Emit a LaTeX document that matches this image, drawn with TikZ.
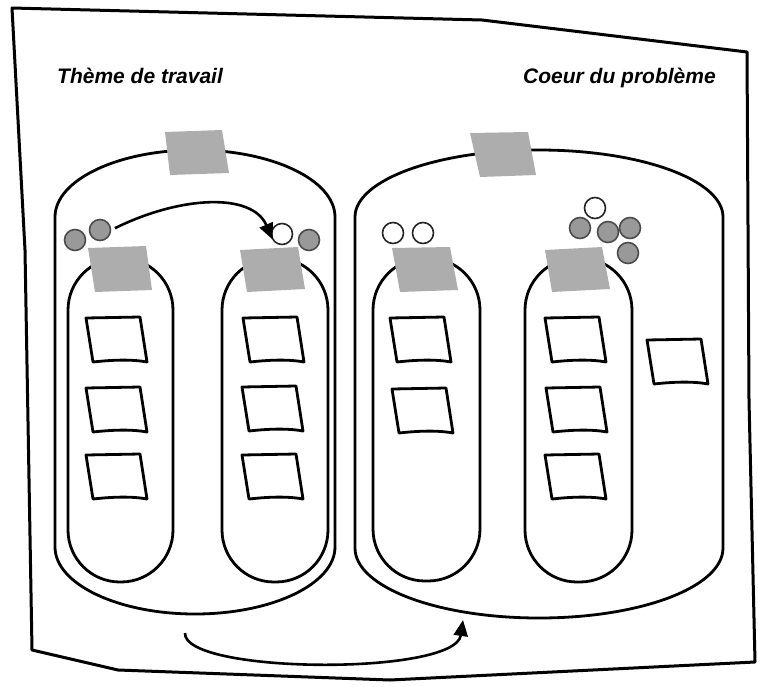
\documentclass[tikz,border=0pt]{standalone}
\usepackage{fontspec}
\setmainfont{Liberation Sans}
\usetikzlibrary{arrows.meta}
\definecolor{tapegray}{gray}{0.68}
\definecolor{dotgray}{gray}{0.6}
\definecolor{dotline}{gray}{0.3}
\tikzset{
  frameline/.style={line width=3pt, line join=round},
  boxline/.style={line width=2.8pt},
  cardline/.style={line width=2.8pt, line join=round},
  tape/.style={fill=tapegray, draw=none},
  gdot/.style={circle, minimum size=21pt, inner sep=0pt, fill=dotgray, draw=dotline, line width=1.6pt},
  wdot/.style={circle, minimum size=21pt, inner sep=0pt, fill=white, draw=black!85, line width=1.6pt},
  flow/.style={line width=2.6pt, -{Triangle[length=16pt,width=14pt]}},
  title/.style={font=\fontsize{21}{25}\selectfont\bfseries\itshape, inner sep=0pt},
  card/.pic={\draw[cardline] (0,0) -- (54,-1) -- (61,44) .. controls (45,41) and (25,42) .. (7,44) -- cycle;}
}
\begin{document}
\begin{tikzpicture}[x=1pt, y=-1pt]
\useasboundingbox (0,0) rectangle (758,686);
% outer sheet
\draw[frameline] (12,8) -- (482,20) -- (747,52) -- (749,400) -- (755,662) -- (390,680) -- (118,670) -- (32,650) -- (25,250) -- cycle;
% titles
\node[title, anchor=base west] (t1) at (57,83) {Thème de travail};
\node[title, anchor=base west] (t2) at (523,83) {Coeur du problème};
% big containers
\draw[boxline] (55,217) -- (55,547) .. controls (55,584) and (118,614) .. (195,614) .. controls (272,614) and (335,584) .. (335,547) -- (335,217) .. controls (335,180) and (272,150) .. (195,150) .. controls (118,150) and (55,180) .. (55,217) -- cycle;
\draw[boxline] (355,217) -- (355,548) .. controls (355,587) and (437,618) .. (539,618) .. controls (641,618) and (723,587) .. (723,548) -- (723,217) .. controls (723,180) and (641,150) .. (539,150) .. controls (437,150) and (355,180) .. (355,217) -- cycle;
% inner capsules
\draw[boxline, rounded corners=52pt] (68,258) rectangle (173,582);
\draw[boxline, rounded corners=52pt] (222,258) rectangle (328,582);
\draw[boxline, rounded corners=52pt] (373,258) rectangle (480,581);
\draw[boxline, rounded corners=52pt] (525,258) rectangle (632,582);
% tapes
\fill[tape] (165,132) -- (222,130) -- (229,173) -- (170,175) -- cycle;
\fill[tape] (470,133) -- (528,132) -- (536,175) -- (480,177) -- cycle;
\fill[tape] (88,248) -- (146,246) -- (152,290) -- (95,292) -- cycle;
\fill[tape] (240,250) -- (298,247) -- (305,289) -- (247,292) -- cycle;
\fill[tape] (392,248) -- (450,247) -- (458,290) -- (400,292) -- cycle;
\fill[tape] (545,250) -- (602,247) -- (610,289) -- (552,292) -- cycle;
% dots
\node[gdot] (g1) at (75,240) {};
\node[gdot] (g2) at (100,230) {};
\node[wdot] (w1) at (282,234) {};
\node[gdot] (g3) at (309,240) {};
\node[wdot] (w2) at (393,233) {};
\node[wdot] (w3) at (423,233) {};
\node[wdot] (w4) at (595,208) {};
\node[gdot] (g4) at (580,228) {};
\node[gdot] (g5) at (608,232) {};
\node[gdot] (g6) at (630,228) {};
\node[gdot] (g7) at (628,253) {};
% cards
\pic at (86,318) {card};
\pic at (86,388) {card};
\pic at (86,455) {card};
\pic at (243,318) {card};
\pic at (242,387) {card};
\pic at (242,455) {card};
\pic at (390,318) {card};
\pic at (392,389) {card};
\pic at (545,318) {card};
\pic at (546,388) {card};
\pic at (545,455) {card};
\pic at (647,340) {card};
% arrows
\draw[flow, shorten <=4pt, shorten >=2pt] (g2.east) .. controls (180,196) and (252,192) .. (w1.220);
\coordinate (bs) at (185,633);
\coordinate (be) at (463,620);
\draw[flow] (bs) .. controls (183,674) and (455,676) .. (be);
\end{tikzpicture}
\end{document}
